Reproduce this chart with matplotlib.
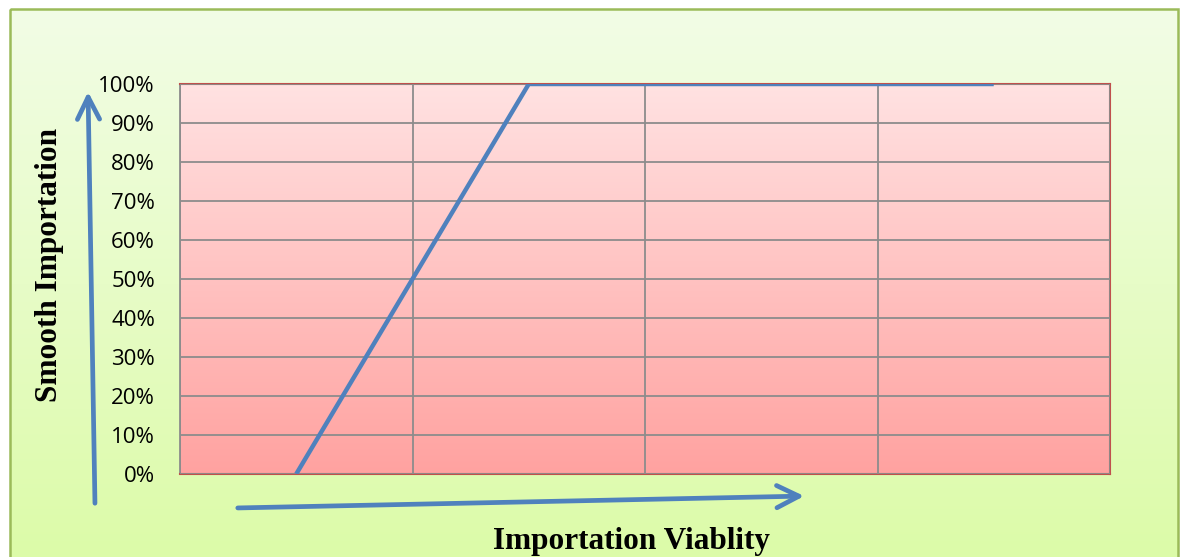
import numpy as np
import matplotlib
matplotlib.use("Agg")
import matplotlib.pyplot as plt
from matplotlib.colors import LinearSegmentedColormap
from matplotlib.patches import FancyArrowPatch, Rectangle
from matplotlib.ticker import PercentFormatter

# data
categories = ["1", "2", "3", "4"]
smooth = [0.0, 1.0, 1.0, 1.0]
yticks = [0.0, 0.1, 0.2, 0.3, 0.4, 0.5, 0.6, 0.7, 0.8, 0.9, 1.0]

W, H = 1180, 557
fig = plt.figure(figsize=(W / 100, H / 100), dpi=100)
fig.patch.set_facecolor("white")

# outer green panel with gradient
bg = fig.add_axes([0, 0, 1, 1], zorder=0)
bg.set_xlim(0, W)
bg.set_ylim(H, 0)
bg.axis("off")
green = LinearSegmentedColormap.from_list("g", ["#F2FDE6", "#DCFBA8"])
bg.imshow(np.linspace(0, 1, 256).reshape(-1, 1), cmap=green, aspect="auto",
          extent=[10, 1178, 560, 9], zorder=0)
bg.add_patch(Rectangle((10, 9), 1168, 560, fill=False, edgecolor="#9BBB59", lw=1.8, zorder=1))

# arrows on the panel
blue = "#4F81BD"
bg.add_patch(FancyArrowPatch((95, 506), (88, 89), arrowstyle="->,head_length=16,head_width=8",
                             color=blue, lw=3.4, zorder=2))
bg.add_patch(FancyArrowPatch((235, 508), (807, 496), arrowstyle="->,head_length=16,head_width=8",
                             color=blue, lw=3.4, zorder=2))

# plot area (180..1110 x 84..474 px)
ax = fig.add_axes([180 / W, 1 - 474 / H, 930 / W, 390 / H], zorder=1)
x = np.arange(len(categories))
ax.set_xlim(-0.5, len(categories) - 0.5)
ax.set_ylim(0, 1)

pink = LinearSegmentedColormap.from_list("p", ["#FFE2E2", "#FFA2A0"])
ax.imshow(np.linspace(0, 1, 256).reshape(-1, 1), cmap=pink, aspect="auto",
          extent=[-0.5, len(categories) - 0.5, 0, 1], zorder=0)

ax.set_yticks(yticks)
ax.yaxis.set_major_formatter(PercentFormatter(1.0, decimals=0))
ax.set_xticks(np.arange(len(categories) + 1) - 0.5)
ax.set_xticklabels([])
ax.tick_params(length=0, pad=18, labelsize=16)
for lab in ax.get_yticklabels():
    lab.set_fontfamily("Open Sans")
ax.grid(True, color="#8C8C8C", lw=1.3)
ax.set_axisbelow(False)

ax.plot(x, smooth, color=blue, lw=3.2, solid_capstyle="butt", zorder=3)

for s in ["top", "right", "bottom"]:
    ax.spines[s].set_color("#C0504D")
    ax.spines[s].set_linewidth(1.5)
ax.spines["left"].set_color("#8C8C8C")
ax.spines["left"].set_linewidth(1.3)

fig.text(50 / W, 1 - 265 / H, "Smooth Importation", rotation=90, ha="center", va="center",
         fontsize=22.5, fontweight="bold", family="Liberation Serif")
fig.text(631 / W, 1 - 541 / H, "Importation Viablity", ha="center", va="center",
         fontsize=22.5, fontweight="bold", family="Liberation Serif")

fig.savefig("out.png", dpi=100)
